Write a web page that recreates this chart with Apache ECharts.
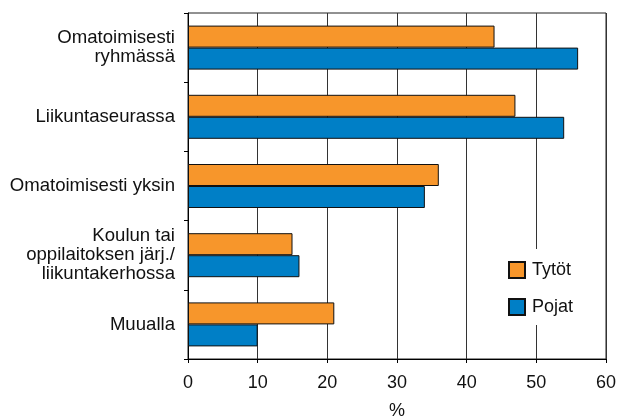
<!DOCTYPE html>
<html><head><meta charset="utf-8">
<script src="https://cdn.jsdelivr.net/npm/echarts@6/dist/echarts.min.js"></script>
<style>html,body{margin:0;padding:0;background:#fff}#c{width:620px;height:418px}</style>
</head><body><div id="c"></div>
<script>
var categories = ['Omatoimisesti\nryhmässä', 'Liikuntaseurassa', 'Omatoimisesti yksin', 'Koulun tai\noppilaitoksen järj./\nliikuntakerhossa', 'Muualla'];
var tytot = [44, 47, 36, 15, 21];
var pojat = [56, 54, 34, 16, 10];
var xTicks = [0, 10, 20, 30, 40, 50, 60];

var FONT = 'Liberation Sans, Arial, sans-serif';
var chart = echarts.init(document.getElementById('c'));
chart.setOption({
  animation: false,
  textStyle: {fontFamily: FONT},
  grid: {left: 188, right: 14, top: 13, bottom: 59, show: true, borderColor: '#222', borderWidth: 1,
         containLabel: false, outerBoundsMode: 'none'},
  legend: {
    orient: 'vertical', left: 500, top: 249,
    padding: [12, 10, 9, 8], itemGap: 19, itemWidth: 16, itemHeight: 16,
    backgroundColor: '#fff',
    icon: 'rect',
    textStyle: {fontSize: 18, color: '#111', fontFamily: FONT, padding: [0, 0, 0, 2]},
    data: ['Tytöt', 'Pojat']
  },
  xAxis: {
    type: 'value', min: xTicks[0], max: xTicks[xTicks.length - 1], interval: 10,
    name: '%', nameLocation: 'middle', nameGap: 43,
    nameTextStyle: {fontSize: 18, color: '#111', fontFamily: FONT},
    axisLine: {show: true, lineStyle: {color: '#000', width: 1}},
    axisTick: {show: true, length: 4, lineStyle: {color: '#000'}},
    axisLabel: {fontSize: 18, color: '#111', margin: 15, fontFamily: FONT},
    splitLine: {show: true, lineStyle: {color: '#333', width: 1}}
  },
  yAxis: {
    type: 'category', data: categories, inverse: true,
    axisLine: {show: true, lineStyle: {color: '#000', width: 1}},
    axisTick: {show: true, length: 4, lineStyle: {color: '#000'}},
    axisLabel: {fontSize: 18.6, color: '#111', margin: 13, lineHeight: 19, align: 'right', fontFamily: FONT},
    splitLine: {show: false}
  },
  series: [
    {name: 'Tytöt', type: 'bar', data: tytot, barWidth: 22, barGap: '0%', barCategoryGap: '35%',
     itemStyle: {color: '#F7962B', borderColor: '#111', borderWidth: 1}},
    {name: 'Pojat', type: 'bar', data: pojat, barWidth: 22, barGap: '0%', barCategoryGap: '35%',
     itemStyle: {color: '#007FC6', borderColor: '#111', borderWidth: 1}}
  ]
});
</script></body></html>
